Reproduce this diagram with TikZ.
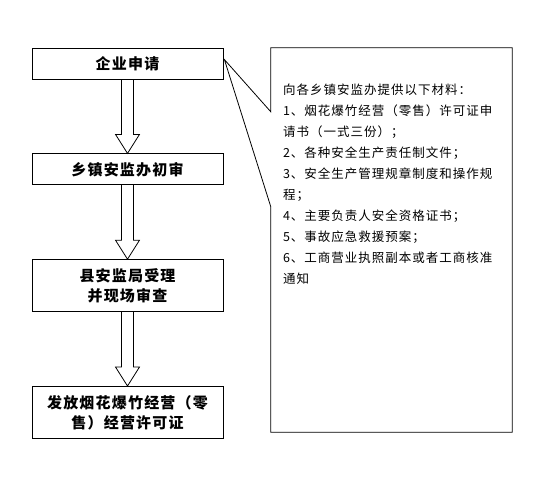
\documentclass[tikz,border=0pt]{standalone}
\usepackage{fontspec}
\setmainfont{Noto Sans CJK SC}
\newfontfamily\boxfont{Noto Sans CJK SC}[LetterSpace=8]
\newfontfamily\notefont{Noto Sans CJK SC}[LetterSpace=8]
\usetikzlibrary{positioning,calc}
\tikzset{
  stepbox/.style={draw,line width=0.8pt,minimum width=191pt,minimum height=31pt,
              align=center,inner sep=2pt,font={\boxfont\bfseries\fontsize{15}{20}\selectfont}},
  bigarrow/.style={draw,line width=0.8pt,to path={let \p1=(\tikztostart),\p2=(\tikztotarget) in
              (\x1-6pt,\y1) -- (\x1-6pt,\y2+19pt) -- (\x1-12pt,\y2+19pt) -- (\x2,\y2)
              -- (\x1+12pt,\y2+19pt) -- (\x1+6pt,\y2+19pt) -- (\x1+6pt,\y1)}},
  callout/.style={draw,line width=0.8pt},
  note/.style={font={\notefont\fontsize{12.5}{21}\selectfont},align=left,inner sep=0pt}
}
\begin{document}
\begin{tikzpicture}[x=1pt,y=1pt,node distance=74pt]
  \useasboundingbox (0,0) rectangle (534,-484);
  \node[stepbox] (apply) at (127.5,-63.5) {企业申请};
  \node[stepbox,below=of apply] (town) {乡镇安监办初审};
  \node[stepbox,below=of town,minimum height=52pt] (county) {县安监局受理\\并现场审查};
  \node[stepbox,below=of county,minimum height=52pt] (permit) {发放烟花爆竹经营（零\\售）经营许可证};
  \draw[bigarrow] (apply.south) to (town.north);
  \draw[bigarrow] (town.south) to (county.north);
  \draw[bigarrow] (county.south) to (permit.north);
  % materials box with callout notch
  \node[minimum width=241pt,minimum height=384pt,inner sep=0pt] (materials) at (391.5,-240) {};
  \coordinate (tip) at ($(apply.north east)+(1pt,-12pt)$);
  \coordinate (notchtop) at ($(materials.north west)+(0,-64pt)$);
  \coordinate (notchbot) at ($(materials.north west)+(0,-159pt)$);
  \draw[callout] (notchtop) |- (materials.north east) |- (materials.south west)
    -- (notchbot) -- (tip) -- cycle;
  \node[note,anchor=north west,below right=36pt and 12pt of materials.north west] (materiallist)
    {向各乡镇安监办提供以下材料：\\
     1、烟花爆竹经营（零售）许可证申\\
     请书（一式三份）；\\
     2、各种安全生产责任制文件；\\
     3、安全生产管理规章制度和操作规\\
     程；\\
     4、主要负责人安全资格证书；\\
     5、事故应急救援预案；\\
     6、工商营业执照副本或者工商核准\\
     通知};
\end{tikzpicture}
\end{document}
